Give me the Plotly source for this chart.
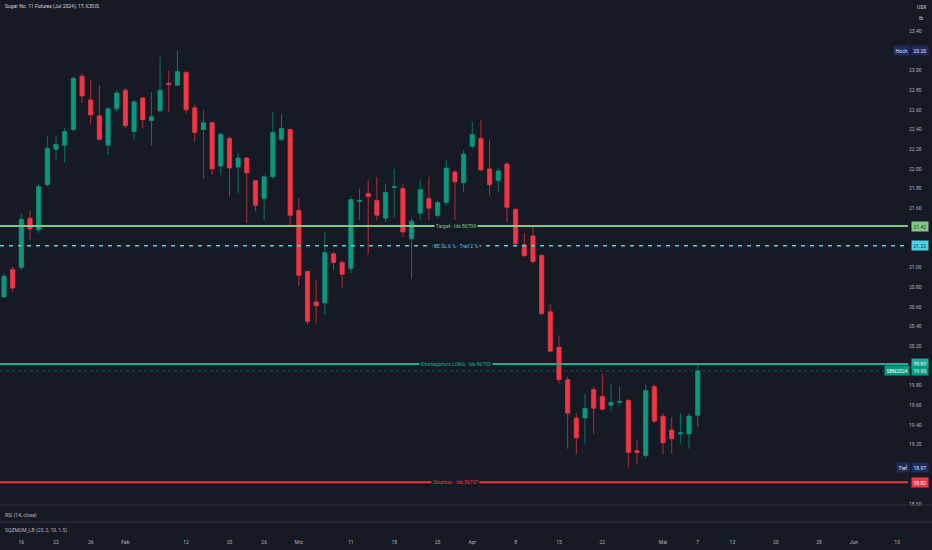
import pandas as pd
import plotly.graph_objects as go

# ---------------- data ----------------
holidays = ["2024-01-15", "2024-02-19", "2024-03-29", "2024-05-27"]
trading_days = [d.strftime("%Y-%m-%d") for d in pd.bdate_range("2024-01-11", "2024-06-14")
                if d.strftime("%Y-%m-%d") not in holidays]

open_ = [20.70, 20.98, 21.00, 21.50, 21.38, 21.84, 22.20, 22.24, 22.40, 22.94,
         22.70, 22.54, 22.24, 22.61, 22.80, 22.38, 22.72, 22.49, 22.59, 22.87,
         22.85, 22.98, 22.62, 22.40, 22.47, 22.03, 22.31, 22.02, 22.11, 21.88,
         21.70, 21.92, 22.30, 22.40, 21.58, 20.96, 20.65, 20.64, 21.14, 21.05,
         20.99, 21.67, 21.75, 21.68, 21.50, 21.81, 21.80, 21.29, 21.55, 21.70,
         21.53, 21.66, 21.97, 21.86, 22.23, 22.31, 22.00, 21.88, 22.05, 21.59,
         21.23, 21.32, 21.12, 20.55, 20.19, 19.86, 19.47, 19.47, 19.76, 19.69,
         19.60, 19.63, 19.65, 19.14, 19.09, 19.79, 19.49, 19.35, 19.31, 19.31, 19.50]
high = [20.94, 21.01, 21.55, 21.58, 21.85, 22.33, 22.33, 22.42, 22.94, 22.97,
        22.90, 22.85, 22.63, 22.80, 22.82, 22.70, 22.73, 22.78, 23.14, 23.00,
        23.20, 22.99, 22.65, 22.60, 22.48, 22.37, 22.33, 22.16, 22.12, 21.89,
        21.94, 22.58, 22.56, 22.41, 21.70, 20.97, 20.87, 21.36, 21.16, 21.07,
        21.72, 21.80, 21.89, 21.92, 21.85, 22.00, 21.84, 21.50, 21.89, 21.92,
        21.68, 22.09, 21.99, 22.19, 22.48, 22.50, 22.29, 22.01, 22.07, 21.60,
        21.35, 21.43, 21.14, 20.63, 20.31, 19.89, 19.52, 19.72, 19.79, 19.92,
        19.81, 19.79, 19.66, 19.25, 19.81, 19.81, 19.52, 19.48, 19.52, 19.52, 20.01]
low = [20.69, 20.75, 20.97, 21.28, 21.35, 21.82, 22.09, 22.06, 22.38, 22.67,
       22.45, 22.29, 22.14, 22.58, 22.41, 22.29, 22.41, 22.24, 22.58, 22.58,
       22.84, 22.56, 22.28, 21.90, 21.94, 21.94, 21.72, 21.75, 21.45, 21.57,
       21.48, 21.90, 22.28, 21.41, 20.81, 20.42, 20.43, 20.52, 20.97, 20.79,
       20.94, 21.48, 21.13, 21.48, 21.46, 21.51, 21.31, 20.88, 21.48, 21.48,
       21.51, 21.63, 21.48, 21.77, 22.21, 21.98, 21.73, 21.77, 21.46, 21.21,
       21.10, 21.04, 20.52, 20.14, 19.82, 19.16, 19.10, 19.21, 19.31, 19.55,
       19.54, 19.60, 18.97, 19.01, 19.06, 19.42, 19.10, 19.11, 19.21, 19.16, 19.38]
close = [20.91, 20.79, 21.49, 21.39, 21.82, 22.21, 22.25, 22.38, 22.92, 22.74,
         22.55, 22.30, 22.61, 22.77, 22.44, 22.68, 22.50, 22.53, 22.80, 22.86,
         22.99, 22.60, 22.37, 22.47, 22.00, 22.35, 22.01, 22.11, 21.96, 21.63,
         21.92, 22.37, 22.41, 21.53, 20.92, 20.45, 20.61, 21.15, 21.05, 20.93,
         21.69, 21.68, 21.72, 21.53, 21.76, 21.82, 21.36, 21.47, 21.79, 21.60,
         21.66, 22.01, 21.87, 22.15, 22.35, 21.99, 21.84, 21.98, 21.61, 21.24,
         21.12, 21.06, 20.53, 20.15, 19.86, 19.52, 19.27, 19.57, 19.57, 19.56,
         19.63, 19.64, 19.12, 19.12, 19.75, 19.44, 19.22, 19.26, 19.32, 19.49, 19.95]

tick_dates = ["2024-01-16", "2024-01-22", "2024-01-26", "2024-02-01", "2024-02-12", "2024-02-20",
              "2024-02-26", "2024-03-01", "2024-03-11", "2024-03-18", "2024-03-25", "2024-04-01",
              "2024-04-08", "2024-04-15", "2024-04-22", "2024-05-01", "2024-05-07", "2024-05-13",
              "2024-05-20", "2024-05-28", "2024-06-03", "2024-06-10"]
tick_labels = ["16", "22", "26", "Feb", "12", "20", "26", "Mrz", "11", "18", "25", "Apr",
               "8", "15", "22", "Mai", "7", "13", "20", "28", "Jun", "10"]

price_ticks = [23.40, 23.00, 22.80, 22.60, 22.40, 22.20, 22.00, 21.80, 21.60, 21.00, 20.80,
               20.60, 20.40, 20.20, 19.80, 19.60, 19.40, 19.20, 18.60]

level_names = ["Target - Idx 86709", "BE SL 6 % - Trail 2 %", "Einstiegskurs LONG - Idx 86705",
               "Stoploss - Idx 86707"]
level_values = [21.42, 21.22, 20.02, 18.82]
level_colors = ["#81c784", "#4dd0e1", "#22ab94", "#f23645"]
level_dash = ["solid", "4px,5px", "solid", "solid"]
level_textcolors = ["#1b3d1e", "#0f3a40", "#ffffff", "#ffffff"]

high_value, low_value, last_value = 23.20, 18.97, 19.95
symbol_code = "SBN2024"

# ---------------- figure ----------------
BG = "#161a25"
UP, DOWN = "#089981", "#f23645"
FONT = "Roboto"

xs = [trading_days.index(d) for d in trading_days[:len(close)]]
tick_pos = [trading_days.index(d) for d in tick_dates]

fig = go.Figure(go.Candlestick(
    x=xs, open=open_, high=high, low=low, close=close,
    increasing=dict(line=dict(color=UP, width=0.7), fillcolor=UP),
    decreasing=dict(line=dict(color=DOWN, width=0.7), fillcolor=DOWN),
    whiskerwidth=0, hoverinfo="skip"))

H_PLOT = 538.0
main_bottom = (H_PLOT - 505) / H_PLOT

shapes = []
annotations = []
for name, val, col, dash, tcol in zip(level_names, level_values, level_colors, level_dash, level_textcolors):
    shapes.append(dict(type="line", xref="paper", x0=0, x1=1, yref="y", y0=val, y1=val,
                       line=dict(color=col, width=2 if dash == "solid" else 1.5, dash=dash), layer="above"))
    annotations.append(dict(xref="paper", x=0.502, yref="y", y=val, text=name, showarrow=False,
                            font=dict(family=FONT, size=5, color=col), bgcolor=BG, borderpad=1,
                            xanchor="center", yanchor="middle"))
    annotations.append(dict(xref="paper", x=1, xshift=3, yref="y", y=val, text=f"{val:.2f}",
                            showarrow=False, font=dict(family=FONT, size=5, color=tcol), bgcolor=col,
                            borderpad=1.5, xanchor="left", yanchor="middle"))

# last price line
shapes.append(dict(type="line", xref="paper", x0=0, x1=1, yref="y", y0=last_value, y1=last_value,
                   line=dict(color="rgba(8,153,129,0.45)", width=1, dash="dot"), layer="below"))
annotations.append(dict(xref="paper", x=1, xshift=3, yref="y", y=last_value, text=f"{last_value:.2f}",
                        showarrow=False, font=dict(family=FONT, size=5, color="#ffffff"), bgcolor=UP,
                        borderpad=1.5, xanchor="left", yanchor="middle"))
annotations.append(dict(xref="paper", x=1, xshift=2, yref="y", y=last_value, text=symbol_code,
                        showarrow=False, font=dict(family=FONT, size=5, color="#ffffff"), bgcolor=UP,
                        borderpad=1.5, xanchor="right", yanchor="middle"))

NAVY = "#1e2b5e"
for lab, val in (("Hoch", high_value), ("Tief", low_value)):
    annotations.append(dict(xref="paper", x=1, xshift=3, yref="y", y=val, text=f"{val:.2f}",
                            showarrow=False, font=dict(family=FONT, size=5, color="#e0e3eb"),
                            bgcolor=NAVY, borderpad=1.5, xanchor="left", yanchor="middle"))
    annotations.append(dict(xref="paper", x=1, xshift=2, yref="y", y=val, text=lab,
                            showarrow=False, font=dict(family=FONT, size=5, color="#e0e3eb"),
                            bgcolor=NAVY, borderpad=1.5, xanchor="right", yanchor="middle"))

# title and texts
annotations.append(dict(xref="paper", yref="paper", x=0, xshift=3, y=1 - 7 / H_PLOT,
                        text="Sugar No. 11 Futures (Jul 2024), 1T, ICEUS", showarrow=False,
                        font=dict(family=FONT, size=5, color="#d1d4dc"), xanchor="left", yanchor="middle"))
annotations.append(dict(xref="paper", yref="paper", x=1, xshift=13, y=1 - 7 / H_PLOT, text="USX",
                        showarrow=False, font=dict(family=FONT, size=5, color="#d1d4dc"),
                        xanchor="center", yanchor="middle"))
annotations.append(dict(xref="paper", yref="paper", x=1, xshift=13, y=1 - 18 / H_PLOT, text="lb",
                        showarrow=False, font=dict(family=FONT, size=5, color="#d1d4dc"),
                        xanchor="center", yanchor="middle"))
annotations.append(dict(xref="paper", yref="paper", x=0, xshift=3, y=1 - 515 / H_PLOT,
                        text="RSI (14, close)", showarrow=False,
                        font=dict(family=FONT, size=5, color="#b2b5be"), xanchor="left", yanchor="middle"))
annotations.append(dict(xref="paper", yref="paper", x=0, xshift=3, y=1 - 530 / H_PLOT,
                        text="SQZMOM_LB (20, 2, 10, 1.5)", showarrow=False,
                        font=dict(family=FONT, size=5, color="#b2b5be"), xanchor="left", yanchor="middle"))

for ypx in (505, 522):
    shapes.append(dict(type="line", xref="paper", yref="paper", x0=0, x1=932 / 908,
                       y0=1 - ypx / H_PLOT, y1=1 - ypx / H_PLOT,
                       line=dict(color="#2a2e39", width=1)))

fig.update_layout(
    width=932, height=550,
    margin=dict(l=0, r=24, t=0, b=12),
    paper_bgcolor=BG, plot_bgcolor=BG,
    showlegend=False,
    font=dict(family=FONT, size=5, color="#b2b5be"),
    shapes=shapes, annotations=annotations,
    xaxis=dict(range=[-0.46, 104.25], tickmode="array", tickvals=tick_pos, ticktext=tick_labels,
               showgrid=False, zeroline=False, showline=False, ticks="", rangeslider=dict(visible=False),
               anchor="free", position=0, tickfont=dict(family=FONT, size=5, color="#b2b5be")),
    yaxis=dict(domain=[main_bottom, 1], side="right", range=[18.588, 23.715], tickmode="array",
               tickvals=price_ticks, ticktext=[f"{v:.2f}" for v in price_ticks],
               showgrid=False, zeroline=False, showline=False, ticks="",
               tickfont=dict(family=FONT, size=5, color="#b2b5be")),
)

fig.write_html("out.html", config={"displayModeBar": False},
               post_script="document.body.style.margin='0';document.body.style.background='" + BG + "';")
